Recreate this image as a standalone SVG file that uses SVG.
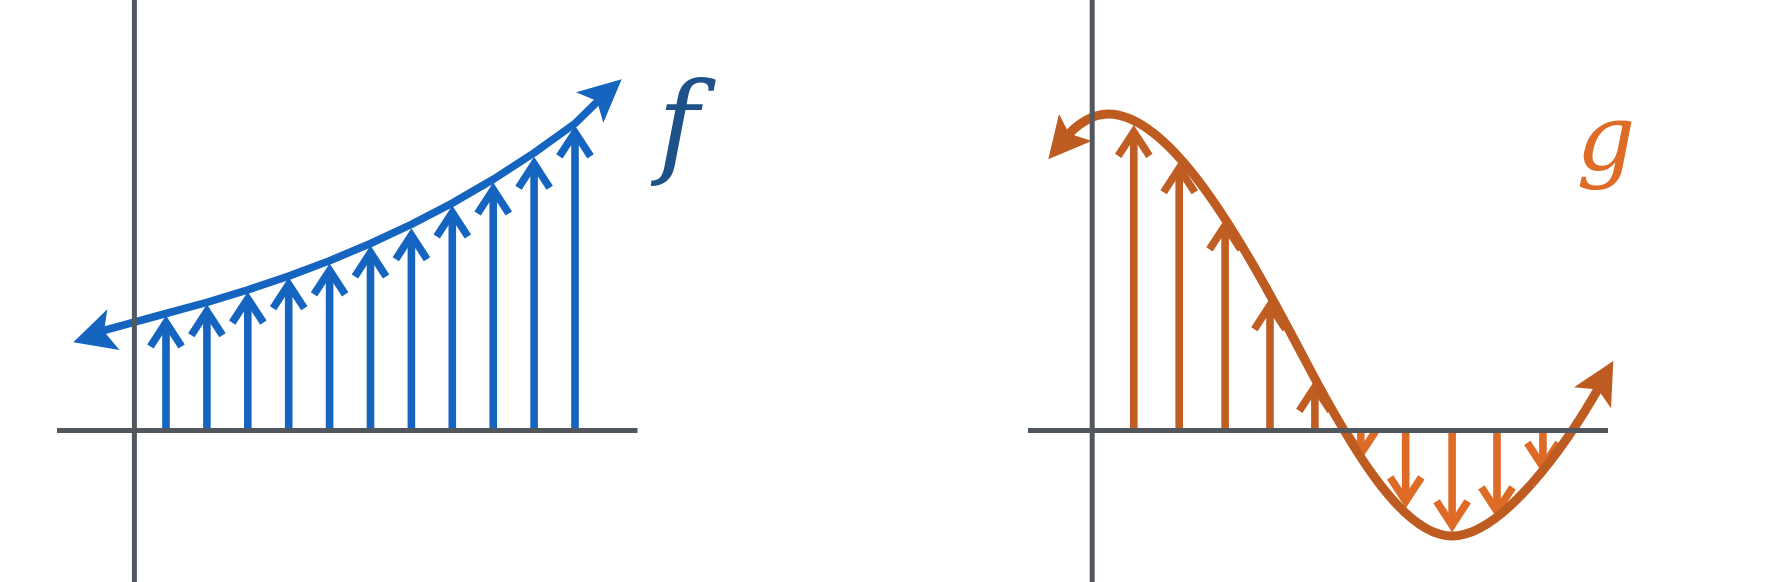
<svg xmlns="http://www.w3.org/2000/svg" width="1774" height="582" viewBox="0 0 1774 582">
<style>
.axis{stroke:#52575e;stroke-width:5;fill:none}
.stem-b{stroke:#1565c0;stroke-width:7.6;fill:none;marker-end:url(#chev-b)}
.stem-o{stroke:#bf5d22;stroke-width:7.6;fill:none;marker-end:url(#chev-o)}
.stem-l{stroke:#dd6b26;stroke-width:7.6;fill:none;marker-end:url(#chev-l)}
.curve-b{stroke:#1565c0;stroke-width:7.6;fill:none;stroke-linejoin:round}
.curve-o{stroke:#bd5b20;stroke-width:9;fill:none}
.label{font-family:"DejaVu Serif","Liberation Serif",serif;font-style:italic;text-anchor:middle}
</style>
<defs>
<marker id="chev-b" markerUnits="userSpaceOnUse" orient="auto" overflow="visible" markerWidth="1" markerHeight="1" refX="0" refY="0"><path d="M-24,-15.6 L0,0 L-24,15.6" fill="none" stroke="#1565c0" stroke-width="7.6" stroke-linejoin="miter"/></marker>
<marker id="chev-o" markerUnits="userSpaceOnUse" orient="auto" overflow="visible" markerWidth="1" markerHeight="1" refX="0" refY="0"><path d="M-24,-15.6 L0,0 L-24,15.6" fill="none" stroke="#bf5d22" stroke-width="7.6" stroke-linejoin="miter"/></marker>
<marker id="chev-l" markerUnits="userSpaceOnUse" orient="auto" overflow="visible" markerWidth="1" markerHeight="1" refX="0" refY="0"><path d="M-24,-15.6 L0,0 L-24,15.6" fill="none" stroke="#dd6b26" stroke-width="7.6" stroke-linejoin="miter"/></marker>
</defs>
<rect width="1774" height="582" fill="#ffffff"/>
<g id="f-stems">
<line class="stem-b" x1="166" y1="430" x2="166" y2="322.5"/>
<line class="stem-b" x1="206.9" y1="430" x2="206.9" y2="311.3"/>
<line class="stem-b" x1="247.8" y1="430" x2="247.8" y2="298.6"/>
<line class="stem-b" x1="288.7" y1="430" x2="288.7" y2="284.2"/>
<line class="stem-b" x1="329.6" y1="430" x2="329.6" y2="270.4"/>
<line class="stem-b" x1="370.5" y1="430" x2="370.5" y2="252.5"/>
<line class="stem-b" x1="411.4" y1="430" x2="411.4" y2="235.2"/>
<line class="stem-b" x1="452.3" y1="430" x2="452.3" y2="212.5"/>
<line class="stem-b" x1="493.2" y1="430" x2="493.2" y2="189.5"/>
<line class="stem-b" x1="534.1" y1="430" x2="534.1" y2="163.8"/>
<line class="stem-b" x1="575" y1="430" x2="575" y2="132.4"/>
</g>
<g id="g-stems">
<line class="stem-o" x1="1133.8" y1="430.5" x2="1133.8" y2="131.9"/>
<line class="stem-o" x1="1179.2" y1="430.5" x2="1179.2" y2="168.2"/>
<line class="stem-o" x1="1225.1" y1="430.5" x2="1225.1" y2="225.4"/>
<line class="stem-o" x1="1270" y1="430.5" x2="1270" y2="305.2"/>
<line class="stem-o" x1="1314.9" y1="430.5" x2="1314.9" y2="386.9"/>
<line class="stem-l" x1="1360.8" y1="430.5" x2="1360.8" y2="453.9"/>
<line class="stem-l" x1="1405.7" y1="430.5" x2="1405.7" y2="501.4"/>
<line class="stem-l" x1="1452.1" y1="430.5" x2="1452.1" y2="525.2"/>
<line class="stem-l" x1="1497" y1="430.5" x2="1497" y2="511.4"/>
<line class="stem-l" x1="1542.9" y1="430.5" x2="1542.9" y2="466.9"/>
</g>
<g id="f-curve">
<polyline class="curve-b" points="98,332 105.5,330 166,313.5 206.9,302.3 247.8,289.9 288.7,276.1 329.6,260.7 370.5,243.5 411.4,224.4 452.3,203.1 493.2,179.4 534.1,152.9 575,123.5 596.5,102.5 602.5,97"/>
<polygon points="73.3,342.3 107.3,309.3 104,331.5 119.5,350" fill="#1565c0"/>
<polygon points="621.7,79.3 576,92.3 597,101 603.3,122.7" fill="#1565c0"/>
</g>
<g id="g-curve">
<path class="curve-o" d="M1064,140 C1076,124 1093,114 1108,114 C1173,114 1245,246 1305,360 C1350,445.5 1402,536 1452,536 C1502,536 1566,446 1601.5,383"/>
<polygon points="1048.3,159.3 1059,114 1069,133.5 1091.7,141" fill="#bd5b20"/>
<polygon points="1613.3,361 1574,387.3 1598,389.5 1611,408.3" fill="#bd5b20"/>
</g>
<g id="axes">
<line class="axis" x1="134.4" y1="0" x2="134.4" y2="582"/>
<line class="axis" x1="57" y1="430.5" x2="637.5" y2="430.5"/>
<line class="axis" x1="1092.2" y1="0" x2="1092.2" y2="582"/>
<line class="axis" x1="1028" y1="430.5" x2="1608" y2="430.5"/>
</g>
<g id="label-f"><text class="label" x="678.5" y="163" font-size="112" fill="#1f5189">f</text></g>
<g id="label-g"><text class="label" x="1606" y="170" font-size="92" fill="#de6b26">g</text></g>
</svg>
